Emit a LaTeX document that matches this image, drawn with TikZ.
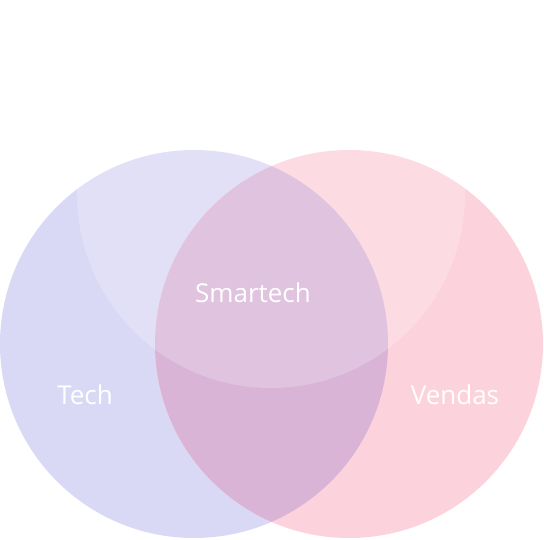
\documentclass[tikz,border=0pt]{standalone}
\usepackage{fontspec}
\setmainfont{Open Sans}
\definecolor{techfill}{RGB}{218,217,245}
\definecolor{salesfill}{RGB}{252,210,220}
\definecolor{bothfill}{RGB}{217,180,215}
\tikzset{
  setlabel/.style={text=white, font=\fontsize{26}{30}\selectfont, inner sep=0pt},
}
\begin{document}
\begin{tikzpicture}[x=1pt,y=-1pt]
  \useasboundingbox (0,0) rectangle (544,540);
  % the two sets
  \fill[techfill] (194,344) circle[radius=194];
  \fill[salesfill] (349,344) circle[radius=194];
  % their intersection
  \begin{scope}
    \clip (194,344) circle[radius=194];
    \fill[bothfill] (349,344) circle[radius=194];
  \end{scope}
  % translucent highlight circle on top
  \fill[white, fill opacity=0.2] (271,194) circle[radius=194];
  % labels
  \node[setlabel] (smart) at (253,293) {Smartech};
  \node[setlabel] (tech) at (85,395) {Tech};
  \node[setlabel] (sales) at (455,395) {Vendas};
\end{tikzpicture}
\end{document}
